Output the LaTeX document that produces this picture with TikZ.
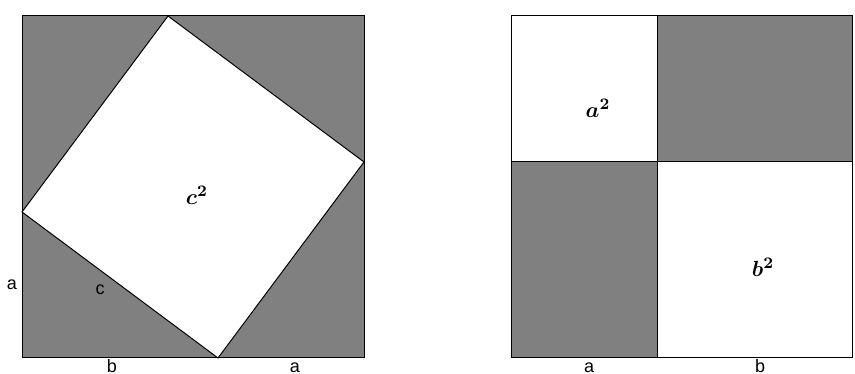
\documentclass[tikz,border=0pt]{standalone}
\usepackage{fontspec}
\setsansfont{Liberation Sans}
\usetikzlibrary{positioning,calc}

\begin{document}
\begin{tikzpicture}[
    x=0.5pt, y=0.5pt,
    shaded/.style={fill=black!50, draw=black, line width=0.5pt},
    blank/.style={fill=white, draw=black, line width=0.5pt},
    side/.style={font=\sffamily\fontsize{9}{10}\selectfont, inner sep=0pt},
    area/.style={font=\fontsize{11}{12}\selectfont\boldmath, inner sep=0pt}
]
\clip (0,0) rectangle (855,374);

% linkes Quadrat: (a+b)^2 mit c^2 in der Mitte
\coordinate (L1) at (22,16);
\coordinate (L2) at (364,16);
\coordinate (L3) at (364,358);
\coordinate (L4) at (22,358);
\draw[shaded] (L1) rectangle (L3);

\coordinate (C1) at (218,16);
\coordinate (C2) at (364,212);
\coordinate (C3) at (168,358);
\coordinate (C4) at (22,162);
\draw[blank] (C1) -- (C2) -- (C3) -- (C4) -- cycle;

\node[area] (csq) at (197,179) {$c^2$};
\node[side] (la) at (12,89) {a};
\node[side] (lc) at (100,84) {c};
\node[side, anchor=base] (lb) at (112,2) {b};
\node[side, anchor=base] (la2) at (295,2) {a};

% rechtes Quadrat: a^2 + b^2 + zwei Rechtecke
\coordinate (R1) at (511,16);
\coordinate (R3) at (852,358);
\coordinate (M) at (657,212);
\draw[shaded] (R1) rectangle (R3);
\draw[blank] (M) rectangle (R1 |- R3);
\draw[blank] (M) rectangle (R3 |- R1);

\node[area] (asq) at (598,266) {$a^2$};
\node[area] (bsq) at (763,107) {$b^2$};
\node[side, anchor=base] (ra) at (589,2) {a};
\node[side, anchor=base] (rb) at (760,2) {b};

\end{tikzpicture}
\end{document}
